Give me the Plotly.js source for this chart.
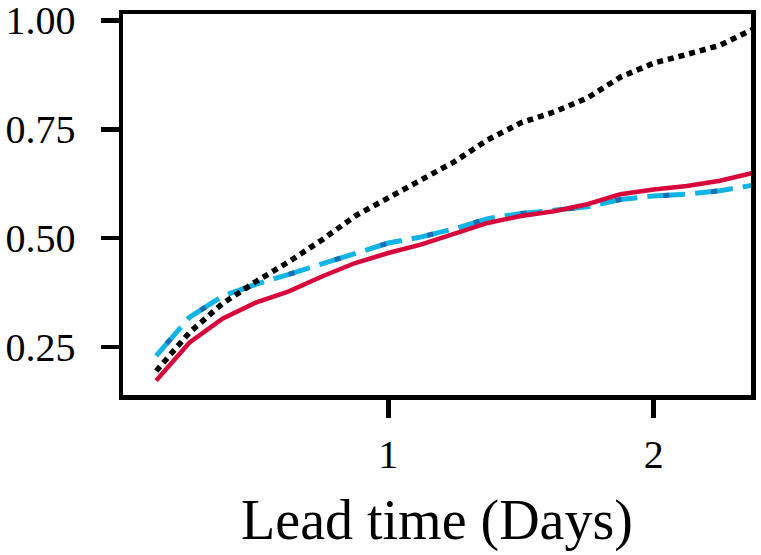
<!DOCTYPE html>
<html>
<head>
<meta charset="utf-8">
<script src="https://cdn.plot.ly/plotly-3.0.1.min.js"></script>
<style>
  html, body { margin: 0; padding: 0; background: #fff; }
  #chart { width: 761px; height: 555px; }
</style>
</head>
<body>
<div id="chart"></div>
<script>
// Data

const leadTimeDays = [
  0.125, 0.25, 0.375, 0.5, 0.625, 0.75, 0.875, 1.0, 1.125, 1.25,
  1.375, 1.5, 1.625, 1.75, 1.875, 2.0, 2.125, 2.25, 2.375,
];

// black dotted
const dottedSeries = [
  0.195, 0.283, 0.35, 0.40, 0.446, 0.496, 0.551, 0.593, 0.633, 0.676,
  0.726, 0.765, 0.79, 0.822, 0.87, 0.902, 0.922, 0.943, 0.98,
];

// red solid
const solidSeries = [
  0.173, 0.26, 0.315, 0.352, 0.378, 0.412, 0.443, 0.466, 0.486, 0.511,
  0.535, 0.551, 0.562, 0.578, 0.601, 0.612, 0.62, 0.632, 0.65,
];

// cyan dashed
const dashedSeries = [
  0.23, 0.318, 0.367, 0.394, 0.417, 0.442, 0.466, 0.489, 0.503, 0.522,
  0.545, 0.557, 0.564, 0.572, 0.589, 0.597, 0.601, 0.609, 0.622,
];

const xTickVals = [1, 2];
const xTickText = ["1", "2"];
const yTickVals = [0.25, 0.5, 0.75, 1.0];
const yTickText = ["0.25", "0.50", "0.75", "1.00"];

// Plot

const serif = "Liberation Serif, Times New Roman, serif";

const traces = [
  {
    x: leadTimeDays,
    y: dashedSeries,
    type: "scatter",
    mode: "lines",
    line: { color: "#12b3e5", width: 5, dash: "38px,10px" },
    hoverinfo: "skip",
  },
  {
    // darker blue patches sitting inside the cyan dashes
    x: leadTimeDays,
    y: dashedSeries,
    type: "scatter",
    mode: "lines",
    line: { color: "#1c6db3", width: 5, dash: "0px,16px,6px,26px" },
    hoverinfo: "skip",
  },
  {
    x: leadTimeDays,
    y: solidSeries,
    type: "scatter",
    mode: "lines",
    line: { color: "#d7063b", width: 4.5 },
    hoverinfo: "skip",
  },
  {
    x: leadTimeDays,
    y: dottedSeries,
    type: "scatter",
    mode: "lines",
    line: { color: "#000000", width: 5.5, dash: "6px,5px" },
    hoverinfo: "skip",
  },
];

const layout = {
  width: 761,
  height: 555,
  showlegend: false,
  paper_bgcolor: "#ffffff",
  plot_bgcolor: "#ffffff",
  font: { family: serif, color: "#000000" },
  margin: { l: 123, r: 10, t: 14, b: 160, pad: 0 },
  xaxis: {
    range: [0, 2.367],
    tickvals: xTickVals,
    ticktext: xTickText,
    tickfont: { family: serif, size: 40 },
    ticks: "outside",
    ticklen: 18,
    tickwidth: 4.5,
    tickcolor: "#000",
    ticklabelstandoff: 2,
    ticklabeloverflow: "allow",
    showline: true,
    linewidth: 4.5,
    linecolor: "#000",
    mirror: true,
    showgrid: false,
    zeroline: false,
    automargin: false,
    title: { text: "Lead time (Days)", font: { family: serif, size: 56 }, standoff: 26 },
  },
  yaxis: {
    range: [0.14, 1.0148],
    tickvals: yTickVals,
    ticktext: yTickText,
    tickfont: { family: serif, size: 40 },
    ticks: "outside",
    ticklen: 18,
    tickwidth: 4.5,
    tickcolor: "#000",
    ticklabelstandoff: 17,
    ticklabeloverflow: "allow",
    showline: true,
    linewidth: 4.5,
    linecolor: "#000",
    mirror: true,
    showgrid: false,
    zeroline: false,
    automargin: false,
  },
};

Plotly.newPlot("chart", traces, layout, {
  displayModeBar: false,
  staticPlot: true,
});
</script>
</body>
</html>
